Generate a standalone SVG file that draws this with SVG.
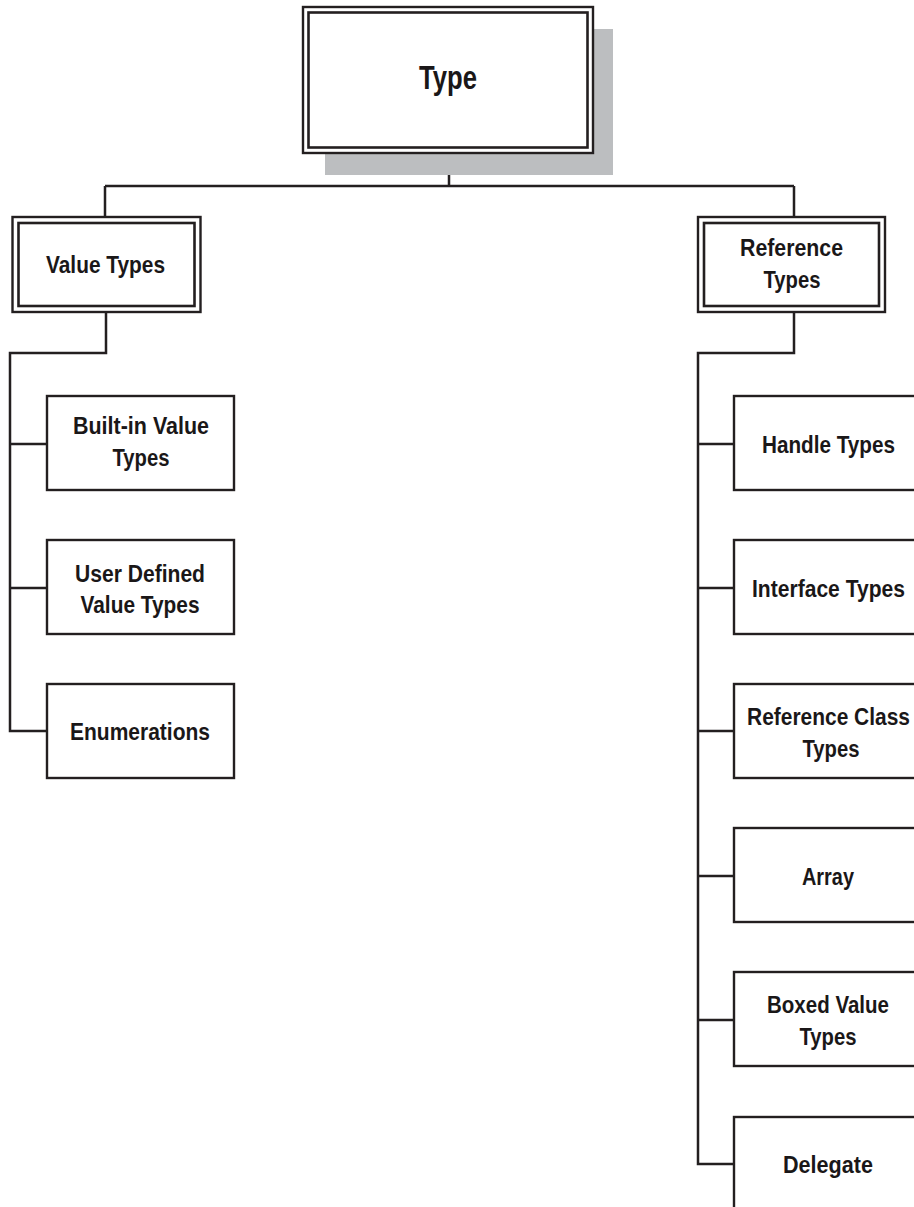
<svg xmlns="http://www.w3.org/2000/svg" width="914" height="1207" viewBox="0 0 914 1207">
<style>
.bx{fill:#fff;stroke:#231f20;stroke-width:2.4}
.in{fill:none;stroke:#231f20;stroke-width:2.6}
.ln{fill:none;stroke:#231f20;stroke-width:2.5}
.t{font-family:"Liberation Sans",Arial,sans-serif;font-weight:bold;fill:#1a1718;text-anchor:middle;font-size:24.5px}
.big{font-size:33px}
</style>
<rect width="914" height="1207" fill="#fff"/>
<g id="connectors">
<path class="ln" d="M449 153V186M105 186H794M105 186V217M794 186V217"/>
<path class="ln" d="M106 312V353H10V731H47M10 444H47M10 588H47"/>
<path class="ln" d="M794 312V353H698V1164H734M698 444H734M698 588H734M698 731H734M698 876H734M698 1020H734"/>
</g>
<g id="type">
<rect x="325" y="29" width="288" height="146" fill="#bcbec0"/>
<rect class="bx" x="303" y="7" width="290" height="146"/>
<rect class="in" x="308.5" y="12.5" width="279" height="135"/>
<text class="t big" x="448" y="89" textLength="58" lengthAdjust="spacingAndGlyphs">Type</text>
</g>
<g id="value-types">
<rect class="bx" x="12.5" y="217" width="188" height="95"/>
<rect class="in" x="18.5" y="223" width="176" height="83"/>
<text class="t" x="105.5" y="273" textLength="119" lengthAdjust="spacingAndGlyphs">Value Types</text>
</g>
<g id="reference-types">
<rect class="bx" x="698" y="217" width="187" height="95"/>
<rect class="in" x="704" y="223" width="175" height="83"/>
<text class="t" x="791.5" y="256" textLength="103" lengthAdjust="spacingAndGlyphs">Reference</text>
<text class="t" x="792" y="288" textLength="57" lengthAdjust="spacingAndGlyphs">Types</text>
</g>
<g id="builtin">
<rect class="bx" x="47" y="396" width="187" height="94"/>
<text class="t" x="141" y="434" textLength="136" lengthAdjust="spacingAndGlyphs">Built-in Value</text>
<text class="t" x="141" y="466" textLength="57" lengthAdjust="spacingAndGlyphs">Types</text>
</g>
<g id="userdefined">
<rect class="bx" x="47" y="540" width="187" height="94"/>
<text class="t" x="140" y="582" textLength="130" lengthAdjust="spacingAndGlyphs">User Defined</text>
<text class="t" x="140" y="613" textLength="119" lengthAdjust="spacingAndGlyphs">Value Types</text>
</g>
<g id="enumerations">
<rect class="bx" x="47" y="684" width="187" height="94"/>
<text class="t" x="140" y="740" textLength="140" lengthAdjust="spacingAndGlyphs">Enumerations</text>
</g>
<g id="handle">
<rect class="bx" x="734" y="396" width="190" height="94"/>
<text class="t" x="828.5" y="453" textLength="133" lengthAdjust="spacingAndGlyphs">Handle Types</text>
</g>
<g id="interface">
<rect class="bx" x="734" y="540" width="190" height="94"/>
<text class="t" x="828.5" y="597" textLength="153" lengthAdjust="spacingAndGlyphs">Interface Types</text>
</g>
<g id="refclass">
<rect class="bx" x="734" y="684" width="190" height="94"/>
<text class="t" x="828.5" y="725" textLength="163" lengthAdjust="spacingAndGlyphs">Reference Class</text>
<text class="t" x="831" y="757" textLength="57" lengthAdjust="spacingAndGlyphs">Types</text>
</g>
<g id="array">
<rect class="bx" x="734" y="828" width="190" height="94"/>
<text class="t" x="828" y="885" textLength="52" lengthAdjust="spacingAndGlyphs">Array</text>
</g>
<g id="boxed">
<rect class="bx" x="734" y="972" width="190" height="94"/>
<text class="t" x="828" y="1013" textLength="122" lengthAdjust="spacingAndGlyphs">Boxed Value</text>
<text class="t" x="828" y="1045" textLength="57" lengthAdjust="spacingAndGlyphs">Types</text>
</g>
<g id="delegate">
<rect class="bx" x="734" y="1117" width="190" height="100"/>
<text class="t" x="828" y="1173" textLength="90" lengthAdjust="spacingAndGlyphs">Delegate</text>
</g>
</svg>
